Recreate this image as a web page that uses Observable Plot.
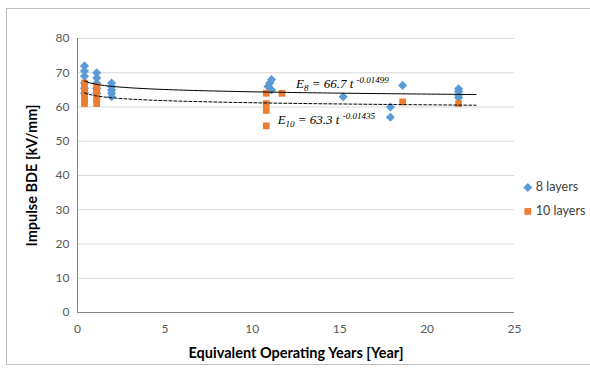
<!DOCTYPE html>
<html>
<head>
<meta charset="utf-8">
<script src="https://cdn.jsdelivr.net/npm/d3@7"></script>
<script src="https://cdn.jsdelivr.net/npm/@observablehq/plot@0.6"></script>
<style>
  body { margin: 0; background: #fff; }
  #wrap { position: relative; width: 590px; height: 379px; overflow: hidden; }
  #frame { position: absolute; left: 6px; top: 8px; width: 600px; height: 355px; border: 1px solid #bcbcbc; }
  #chart { position: absolute; left: 0; top: 0; }
</style>
</head>
<body>
<div id="wrap"><div id="frame"></div><div id="chart"></div></div>
<script>
// Impulse breakdown strength vs. equivalent operating years
const years8 = [0.4, 0.4, 0.4, 0.4, 0.4, 0.4,
                1.1, 1.1, 1.1, 1.1, 1.1,
                1.95, 1.95, 1.95, 1.95, 1.95,
                11.1, 11.0, 10.9, 11.1,
                15.2, 17.9, 17.9, 18.6,
                21.8, 21.8, 21.8, 21.8];
const bde8 = [72, 70.5, 69, 67, 65.5, 64,
              70, 68.5, 67, 65.5, 64,
              67, 66, 65, 64, 63,
              68, 67, 66, 65,
              63, 60, 57, 66.3,
              65.3, 64.5, 63.5, 62.8];

const years10 = [0.4, 0.4, 0.4, 0.4, 0.4, 0.4,
                 1.1, 1.1, 1.1, 1.1, 1.1, 1.1,
                 10.8, 10.8, 10.8, 10.8,
                 11.7, 18.6, 21.8];
const bde10 = [67, 65, 64, 63, 62, 61,
               66, 65, 64.5, 63, 62, 61,
               64, 61, 59, 54.5,
               64, 61.5, 61];

// Power-law fits E = a * t^b
const seriesNames = ["8 layers", "10 layers"];
const fitSub = ["8", "10"];
const fitA = [66.7, 63.3];
const fitB = [-0.01499, -0.01435];
const fitSpan = [0.4, 22.8];

const xTicks = [0, 5, 10, 15, 20, 25];
const yTicks = [0, 10, 20, 30, 40, 50, 60, 70, 80];

const blue = "#5b9bd5";
const orange = "#ed7d31";

// square rotated 45 degrees (equal width and height)
const rhombus = {
  draw(context, size) {
    const h = Math.sqrt(size) * 0.6;
    context.moveTo(0, -h);
    context.lineTo(h, 0);
    context.lineTo(0, h);
    context.lineTo(-h, 0);
    context.closePath();
  }
};

const pts8 = years8.map((t, i) => ({t, v: bde8[i]}));
const pts10 = years10.map((t, i) => ({t, v: bde10[i]}));

function fitCurve(k) {
  const n = 80;
  return d3.range(n).map(i => {
    const t = fitSpan[0] + i * (fitSpan[1] - fitSpan[0]) / (n - 1);
    return {t, v: fitA[k] * Math.pow(t, fitB[k])};
  });
}

const eqs = [
  {t: 12.5, v: 66.9, k: 0},
  {t: 11.45, v: 56.2, k: 1}
];
const eqText = k => `E${fitSub[k]} = ${fitA[k]} t ${fitB[k]}`;

const legend = [
  {t: 25.76, v: 36.5, k: 0},
  {t: 25.76, v: 29.5, k: 1}
];

const font = "Lato, 'Open Sans', sans-serif";

const chart = Plot.plot({
  width: 590,
  height: 379,
  marginLeft: 77,
  marginRight: 76,
  marginTop: 38,
  marginBottom: 67,
  style: {fontFamily: font, fontSize: "12px", color: "#595959", background: "transparent"},
  x: {domain: [0, 25], ticks: xTicks, tickSize: 0, tickPadding: 12, label: null},
  y: {domain: [0, 80], ticks: yTicks, tickSize: 0, tickPadding: 8, label: null},
  marks: [
    Plot.ruleY(yTicks.filter(d => d > 0), {stroke: "#d9d9d9", strokeWidth: 1}),
    Plot.ruleY([0], {stroke: "#868686"}),
    Plot.ruleX([0], {stroke: "#868686"}),
    Plot.dot(pts8, {x: "t", y: "v", symbol: rhombus, r: 4.3, fill: blue, stroke: "none"}),
    Plot.dot(pts10, {x: "t", y: "v", symbol: "square", r: 3.8, fill: orange, stroke: "none"}),
    Plot.line(fitCurve(0), {x: "t", y: "v", stroke: "#000", strokeWidth: 1}),
    Plot.line(fitCurve(1), {x: "t", y: "v", stroke: "#000", strokeWidth: 1, strokeDasharray: "3,2"}),
    Plot.text(eqs, {x: "t", y: "v", text: d => eqText(d.k), textAnchor: "start",
      fontFamily: "'Liberation Serif', 'Times New Roman', serif", fontStyle: "italic",
      fontSize: 13, fill: "#000"}),
    Plot.dot(legend.slice(0, 1), {x: "t", y: "v", symbol: rhombus, r: 4.3, fill: blue, stroke: "none"}),
    Plot.dot(legend.slice(1), {x: "t", y: "v", symbol: "square", r: 3.8, fill: orange, stroke: "none"}),
    Plot.text(legend, {x: d => d.t + 0.46, y: "v", text: d => seriesNames[d.k], textAnchor: "start",
      fontSize: 12.5, fill: "#404040"}),
    Plot.text(["Equivalent Operating Years [Year]"], {x: 12.5, y: -12, text: d => d,
      fontWeight: "bold", fontSize: 14.5, fill: "#000"}),
    Plot.text(["Impulse BDE [kV/mm]"], {x: -2.6, y: 40, text: d => d, rotate: -90,
      fontWeight: "bold", fontSize: 14.5, fill: "#000"})
  ]
});

// Typeset the fit equations with subscript and superscript
eqs.forEach(({k}) => {
  d3.select(chart).selectAll("text")
    .filter(function() { return this.textContent === eqText(k); })
    .each(function() {
      const el = d3.select(this);
      el.text(null);
      el.append("tspan").text("E");
      el.append("tspan").attr("font-size", 9).attr("dy", 3).text(fitSub[k]);
      el.append("tspan").attr("dy", -3).text(` = ${fitA[k]} t `);
      el.append("tspan").attr("font-size", 9).attr("dy", -5).text(String(fitB[k]));
    });
});

document.getElementById("chart").appendChild(chart);
</script>
</body>
</html>
